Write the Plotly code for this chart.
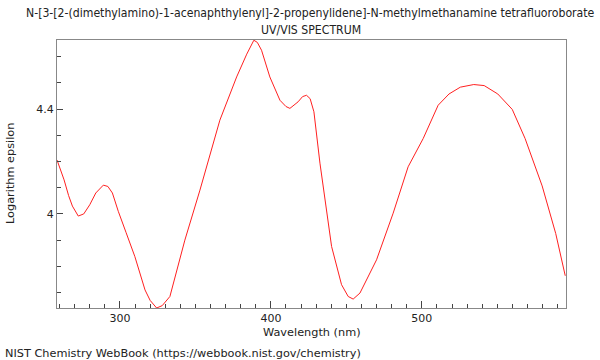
import plotly.graph_objects as go

wavelength_nm = [258.3, 263, 266, 268.5, 272.4, 276, 280, 284, 289, 292, 295, 298.9, 304, 309.9,
                 316.6, 320, 324.3, 328, 333.1, 339.7, 343, 353, 366.2, 377.3, 384, 388.7, 391,
                 393.8, 399.3, 406, 410, 412.6, 418, 421, 423.6, 426, 428.5, 432.5, 436.9, 440.2,
                 446.8, 451.2, 454.5, 459, 470, 481, 490.9, 500.9, 510.8, 518, 525.5, 534.4,
                 541.3, 550.3, 559.9, 568.4, 579.7, 588.7, 595]
log_epsilon = [4.206, 4.13, 4.07, 4.03, 3.992, 4.0, 4.035, 4.08, 4.110, 4.105, 4.08, 4.01, 3.93,
               3.837, 3.71, 3.67, 3.641, 3.65, 3.685, 3.825, 3.90, 4.091, 4.358, 4.523, 4.61,
               4.663, 4.655, 4.625, 4.523, 4.434, 4.41, 4.403, 4.428, 4.448, 4.453, 4.44, 4.39,
               4.194, 4.003, 3.876, 3.73, 3.685, 3.675, 3.698, 3.825, 4.003, 4.18, 4.288, 4.415,
               4.458, 4.484, 4.494, 4.49, 4.458, 4.399, 4.288, 4.107, 3.925, 3.764]

title_line1 = "N-[3-[2-(dimethylamino)-1-acenaphthylenyl]-2-propenylidene]-N-methylmethanamine tetrafluoroborate"
title_line2 = "UV/VIS SPECTRUM"
x_title = "Wavelength (nm)"
y_title = "Logarithm epsilon"
footer = "NIST Chemistry WebBook (https://webbook.nist.gov/chemistry)"

FONT = "DejaVu Sans"
FONT_C = "DejaVu Sans Condensed, DejaVu Sans"
L, R, T, B = 57, 34, 40, 52
W, H = 600, 360
pw, ph = W - L - R, H - T - B

fig = go.Figure()
fig.add_trace(go.Scatter(x=wavelength_nm, y=log_epsilon, mode="lines",
                         line=dict(color="#ff2020", width=1), hoverinfo="skip"))

fig.update_layout(
    width=W, height=H, margin=dict(l=L, r=R, t=T, b=B),
    paper_bgcolor="white", plot_bgcolor="white", showlegend=False,
    font=dict(family=FONT, size=11.3, color="#222"),
)
fig.update_xaxes(range=[258.3, 595.5], showgrid=False, zeroline=False,
                 showline=True, linecolor="#888", linewidth=1, mirror=True,
                 ticks="inside", tickcolor="#444", ticklen=7, dtick=100, tick0=0,
                 minor=dict(dtick=10, ticks="inside", ticklen=4, tickcolor="#444"),
                 tickfont=dict(family=FONT, size=11, color="#222"))
fig.update_yaxes(range=[3.641, 4.664], showgrid=False, zeroline=False,
                 showline=True, linecolor="#888", linewidth=1, mirror=True,
                 ticks="inside", tickcolor="#444", ticklen=6, dtick=0.4, tick0=4.0,
                 minor=dict(dtick=0.1, ticks="inside", ticklen=4, tickcolor="#444"),
                 tickfont=dict(family=FONT, size=11, color="#222"))

def px_to_paper_x(px):
    return (px - L) / pw

def px_to_paper_y(py):
    return (H - B - py) / ph

ann = [
    dict(text=title_line1, x=px_to_paper_x(310), y=px_to_paper_y(13), xanchor="center", yanchor="middle",
         font=dict(family=FONT_C, size=12.17, color="#222")),
    dict(text=title_line2, x=px_to_paper_x(311), y=px_to_paper_y(30), xanchor="center", yanchor="middle",
         font=dict(family=FONT_C, size=12.17, color="#222")),
    dict(text=x_title, x=px_to_paper_x(311.5), y=px_to_paper_y(332), xanchor="center", yanchor="middle",
         font=dict(family=FONT, size=11.3, color="#222")),
    dict(text=y_title, x=px_to_paper_x(10), y=px_to_paper_y(174), xanchor="center", yanchor="middle", textangle=-90,
         font=dict(family=FONT, size=11.3, color="#222")),
    dict(text=footer, x=px_to_paper_x(3), y=px_to_paper_y(353), xanchor="left", yanchor="middle",
         font=dict(family=FONT, size=11.3, color="#222")),
]
for a in ann:
    fig.add_annotation(xref="paper", yref="paper", showarrow=False, **a)

fig.write_html("out.html")
